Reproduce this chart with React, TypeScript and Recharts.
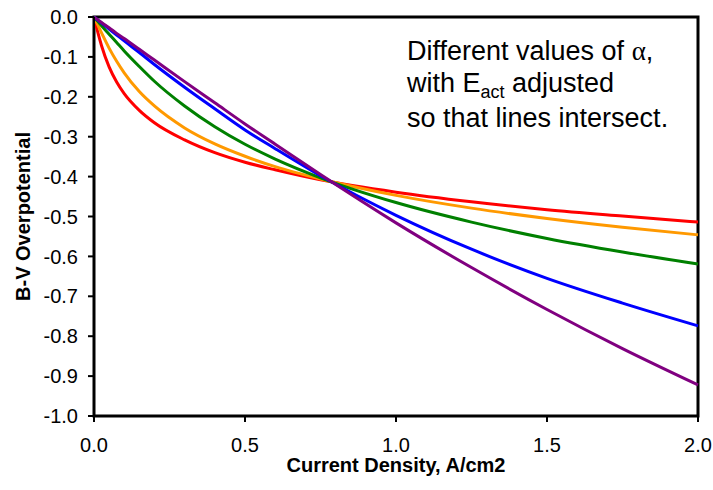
import React from 'react';
import { LineChart, Line, XAxis, YAxis, Label, ReferenceArea } from 'recharts';

// current density (A/cm2) where the curves were read
const currentDensity = [0, 0.0125, 0.025, 0.05, 0.075, 0.1, 0.15, 0.2, 0.3, 0.4, 0.5, 0.6, 0.75, 1.0, 1.25, 1.5, 1.75, 2.0];

// B-V overpotential per curve
const redCurve = [0, -0.038, -0.072, -0.125, -0.163, -0.192, -0.234, -0.265, -0.308, -0.34, -0.364, -0.383, -0.408, -0.439, -0.463, -0.483, -0.499, -0.514];
const orangeCurve = [0, -0.02, -0.04, -0.078, -0.111, -0.14, -0.187, -0.223, -0.278, -0.318, -0.349, -0.375, -0.406, -0.447, -0.479, -0.505, -0.527, -0.546];
const greenCurve = [0, -0.011, -0.022, -0.043, -0.064, -0.085, -0.124, -0.161, -0.223, -0.275, -0.319, -0.356, -0.403, -0.465, -0.514, -0.555, -0.589, -0.619];
const blueCurve = [0, -0.008, -0.015, -0.03, -0.045, -0.06, -0.089, -0.119, -0.176, -0.23, -0.283, -0.33, -0.398, -0.497, -0.582, -0.655, -0.717, -0.774];
const purpleCurve = [0, -0.007, -0.014, -0.027, -0.041, -0.054, -0.081, -0.108, -0.162, -0.215, -0.268, -0.319, -0.395, -0.516, -0.628, -0.733, -0.831, -0.922];

const xTicks = [0, 0.5, 1.0, 1.5, 2.0];
const yTicks = [0, -0.1, -0.2, -0.3, -0.4, -0.5, -0.6, -0.7, -0.8, -0.9, -1.0];

const series = [
  { key: 'red', color: '#FF0000' },
  { key: 'orange', color: '#FF9900' },
  { key: 'green', color: '#008000' },
  { key: 'blue', color: '#0000FF' },
  { key: 'purple', color: '#800080' },
];

const data = currentDensity.map((x, i) => ({
  x,
  red: redCurve[i],
  orange: orangeCurve[i],
  green: greenCurve[i],
  blue: blueCurve[i],
  purple: purpleCurve[i],
}));

const FONT = '"Liberation Sans", Arial, sans-serif';
const tickStyle = { fill: '#000', fontSize: 20, fontFamily: FONT };
const axisLine = { stroke: '#000', strokeWidth: 2 };

const App: React.FC = () => {
  return (
    <div style={{ position: 'absolute', left: 0, top: 0, width: 713, height: 490, background: '#fff' }}>
      <LineChart width={713} height={490} data={data} margin={{ top: 17, right: 15, left: 0, bottom: 0 }} style={{ fontFamily: FONT }}>
        <XAxis
          type="number"
          dataKey="x"
          domain={[0, 2]}
          ticks={xTicks}
          tickFormatter={(v: number) => v.toFixed(1)}
          tick={tickStyle}
          tickSize={6}
          tickMargin={16}
          axisLine={axisLine}
          tickLine={axisLine}
          height={74}
        >
          <Label value="Current Density, A/cm2" position="insideBottom" offset={18} fill="#000" fontSize={20} fontWeight="bold" />
        </XAxis>
        <YAxis
          type="number"
          domain={[-1, 0]}
          ticks={yTicks}
          tickFormatter={(v: number) => v.toFixed(1)}
          tick={tickStyle}
          tickSize={6}
          tickMargin={10}
          axisLine={axisLine}
          tickLine={axisLine}
          width={94}
        >
          <Label value="B-V Overpotential" angle={-90} position="insideLeft" offset={23} fontSize={20} fontWeight="bold" style={{ textAnchor: 'middle', fill: '#000' }} />
        </YAxis>
        {/* plot frame */}
        <ReferenceArea x1={0} x2={2} y1={-1} y2={0} fill="none" fillOpacity={0} stroke="#000" strokeWidth={3} strokeOpacity={1} ifOverflow="visible" />
        {series.map(s => (
          <Line key={s.key} type="monotone" dataKey={s.key} stroke={s.color} strokeWidth={3} dot={false} isAnimationActive={false} />
        ))}
      </LineChart>
      <div style={{ position: 'absolute', left: 407, top: 35, fontFamily: FONT, fontSize: 27, lineHeight: '32px', color: '#000', whiteSpace: 'nowrap' }}>
        <div>Different values of <span style={{ fontFamily: '"Liberation Serif", serif' }}>α</span>,</div>
        <div>with E<span style={{ fontSize: 18, position: 'relative', top: 6 }}>act</span> adjusted</div>
        <div>so that lines intersect.</div>
      </div>
    </div>
  );
};

export default App;
